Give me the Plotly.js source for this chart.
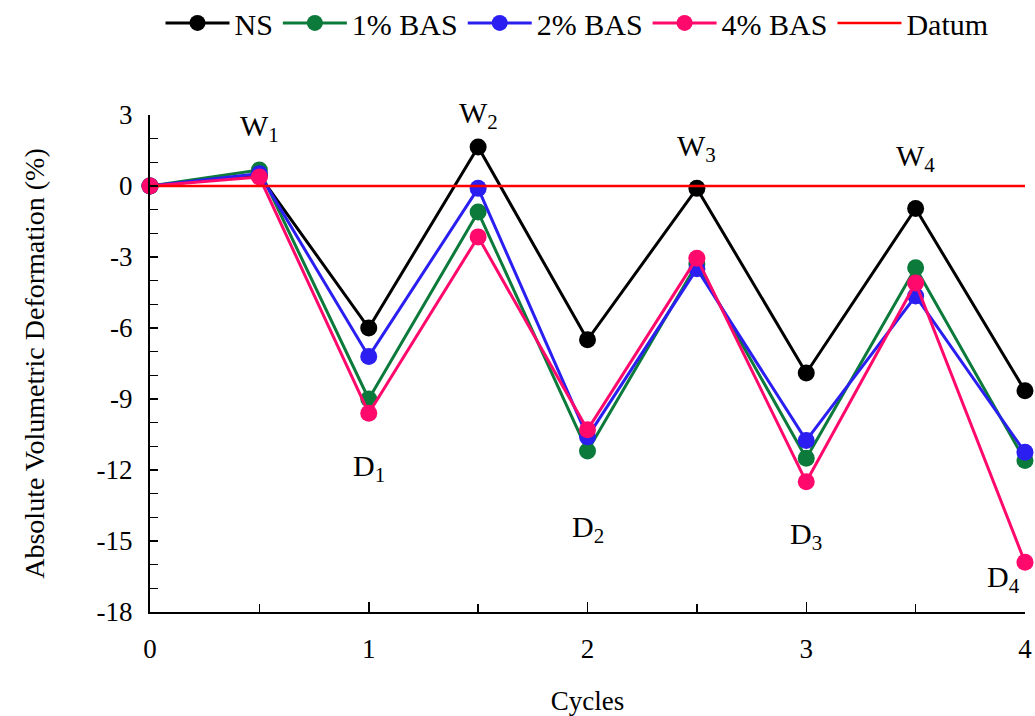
<!DOCTYPE html>
<html>
<head>
<meta charset="utf-8">
<script src="https://cdn.plot.ly/plotly-3.0.1.min.js"></script>
<style>
  html, body { margin: 0; padding: 0; background: #fff; }
  #chart { width: 1035px; height: 716px; }
</style>
</head>
<body>
<div id="chart"></div>
<script>
// Wetting–drying cycles (half cycles: wet at x.5, dry at integers)
const cycles = [0, 0.5, 1, 1.5, 2, 2.5, 3, 3.5, 4];

// Absolute volumetric deformation (%) for each mix
const ns     = [0, 0.45, -6.0, 1.65, -6.5, -0.1, -7.9, -0.95, -8.65];
const bas1   = [0, 0.68, -9.0, -1.1, -11.2, -3.3, -11.5, -3.45, -11.6];
const bas2   = [0, 0.52, -7.2, -0.1, -10.6, -3.5, -10.75, -4.65, -11.25];
const bas4   = [0, 0.38, -9.6, -2.15, -10.3, -3.05, -12.5, -4.1, -15.9];

const seriesNames  = ['NS', '1% BAS', '2% BAS', '4% BAS'];
const seriesColors = ['#000000', '#0b7a3b', '#2a1ff0', '#ff0a6c'];
const seriesData   = [ns, bas1, bas2, bas4];

// Datum line at zero deformation
const datumX = [0, 4];
const datumY = [0, 0];

// Axis tick labels (plain hyphen for negatives)
const xTickVals = [0, 1, 2, 3, 4];
const yTickVals = [3, 0, -3, -6, -9, -12, -15, -18];
const yTickText = ['3', '0', '-3', '-6', '-9', '-12', '-15', '-18'];

// Stage labels: wetting peaks (W) and drying troughs (D)
const stageText = ['W<sub>1</sub>', 'W<sub>2</sub>', 'W<sub>3</sub>', 'W<sub>4</sub>',
                   'D<sub>1</sub>', 'D<sub>2</sub>', 'D<sub>3</sub>', 'D<sub>4</sub>'];
const stageX = [0.5, 1.5, 2.5, 3.5, 1, 2, 3, 3.9];
const stageY = [2.45, 3.0, 1.6, 1.2, -11.9, -14.5, -14.8, -16.6];

const font = 'Liberation Serif';

const traces = seriesData.map((ys, i) => ({
  x: cycles,
  y: ys,
  name: seriesNames[i],
  type: 'scatter',
  mode: 'lines+markers',
  cliponaxis: false,
  line: { color: seriesColors[i], width: 3 },
  marker: { color: seriesColors[i], size: 17 }
}));

traces.push({
  x: datumX,
  y: datumY,
  name: 'Datum',
  type: 'scatter',
  mode: 'lines',
  cliponaxis: false,
  line: { color: '#ff0000', width: 2.5 }
});

const annotations = stageText.map((t, i) => ({
  x: stageX[i],
  y: stageY[i],
  text: t,
  showarrow: false,
  font: { family: font, size: 30, color: '#000' }
}));

const layout = {
  width: 1035,
  height: 716,
  paper_bgcolor: '#ffffff',
  plot_bgcolor: '#ffffff',
  margin: { l: 150, r: 10, t: 115, b: 104 },
  font: { family: font, size: 27, color: '#000' },
  showlegend: true,
  legend: {
    orientation: 'h',
    x: 0.488, xanchor: 'center',
    y: 0.968, yanchor: 'middle',
    yref: 'container',
    font: { family: font, size: 30, color: '#000' },
    itemwidth: 64,
    tracegroupgap: 0
  },
  xaxis: {
    range: [0, 4],
    tickvals: xTickVals,
    ticks: 'inside',
    ticklen: 10,
    tickwidth: 1.5,
    tickcolor: '#000',
    minor: { dtick: 0.5, ticks: 'inside', ticklen: 8, tickwidth: 1.5, tickcolor: '#000' },
    showline: true,
    linecolor: '#000',
    linewidth: 2,
    showgrid: false,
    zeroline: false,
    ticklabelstandoff: 12,
    tickfont: { family: font, size: 27, color: '#000' },
    title: { text: 'Cycles', font: { family: font, size: 27, color: '#000' }, standoff: 28 }
  },
  yaxis: {
    range: [-18, 3],
    tickvals: yTickVals,
    ticktext: yTickText,
    ticks: 'inside',
    ticklen: 8,
    tickwidth: 1.5,
    tickcolor: '#000',
    minor: { dtick: 1, tick0: 0, ticks: 'inside', ticklen: 8, tickwidth: 1.5, tickcolor: '#000' },
    showline: true,
    linecolor: '#000',
    linewidth: 2,
    showgrid: false,
    zeroline: false,
    ticklabelstandoff: 10,
    tickfont: { family: font, size: 27, color: '#000' },
    title: { text: 'Absolute Volumetric Deformation (%)', font: { family: font, size: 28, color: '#000' }, standoff: 44 }
  },
  annotations: annotations
};

Plotly.newPlot('chart', traces, layout, { displayModeBar: false, staticPlot: true });
</script>
</body>
</html>
